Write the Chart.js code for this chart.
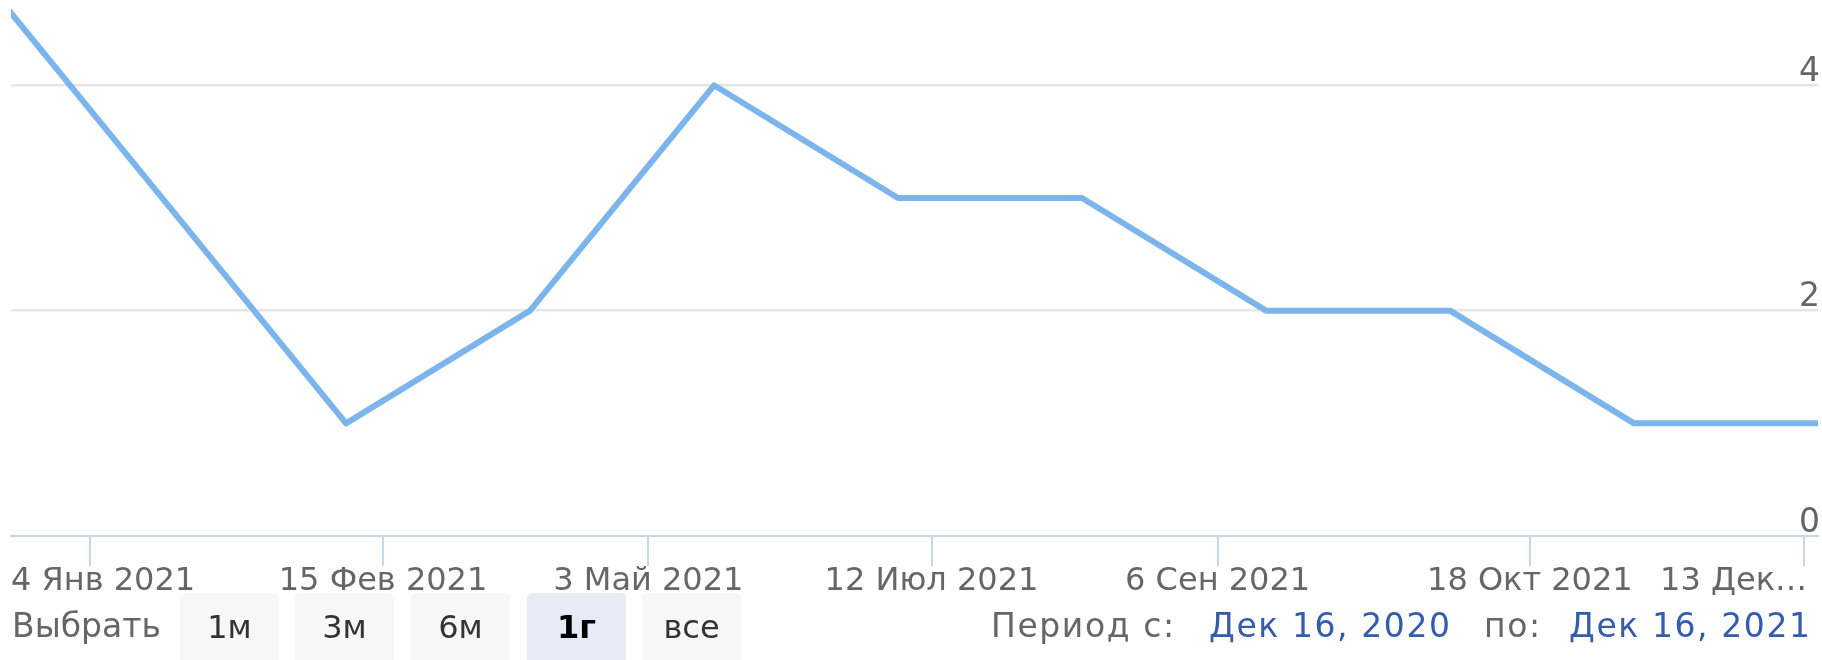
<!DOCTYPE html>
<html>
<head>
<meta charset="utf-8">
<script src="https://cdn.jsdelivr.net/npm/chart.js@4.4.0/dist/chart.umd.min.js"></script>
<style>
  body { margin: 0; background: #fff; }
  #wrap { position: relative; width: 1822px; height: 660px; overflow: hidden; font-family: "DejaVu Sans", sans-serif; }
  #wrap canvas { position: absolute; left: 0; top: 0; }
  .lbl { position: absolute; top: 608px; font-size: 33px; line-height: 36px; color: #666; white-space: nowrap; }
  .per { letter-spacing: 1.6px; }
  .btn { position: absolute; top: 593px; width: 99px; height: 80px; padding-top: 16px; box-sizing: border-box;
         background: #f7f7f7; border-radius: 5px; text-align: center; font-size: 32px; line-height: 36px; color: #333; }
  .btn.sel { background: #e6ebf5; color: #000; font-weight: bold; }
  .date { color: #335cad; }
</style>
</head>
<body>
<div id="wrap">
  <canvas id="grafico"></canvas>
  <div class="lbl" style="left:12px">Выбрать</div>
  <div class="btn" style="left:180px">1м</div>
  <div class="btn" style="left:295px">3м</div>
  <div class="btn" style="left:411px">6м</div>
  <div class="btn sel" style="left:527px">1г</div>
  <div class="btn" style="left:642px">все</div>
  <div class="lbl per" style="left:991px">Период с:</div>
  <div class="lbl per date" style="left:1209px">Дек 16, 2020</div>
  <div class="lbl per" style="left:1484px">по:</div>
  <div class="lbl per date" style="left:1569px">Дек 16, 2021</div>
</div>
<script>
// ordinal axis: points are equally spaced, x = point index
let valores = [5, 3, 1, 2, 4, 3, 3, 2, 2, 1, 1]

// tick marks (in point-index units) and their labels
let posTicks = [0.608, 2.201, 3.643, 5.182, 6.737, 8.434, 9.924]
let posRotulos = [0.179, 2.201, 3.643, 5.182, 6.737, 8.434, 9.94]
let rotulosX = ['4 Янв 2021', '15 Фев 2021', '3 Май 2021', '12 Июл 2021', '6 Сен 2021', '18 Окт 2021', '13 Дек…']
let ticksY = [0, 2, 4]

let xMin = 0.179, xMax = 10
let yMax = 4.757

let pontos = valores.map((v, i) => { return {x: i, y: v} })

var ctx = document.getElementById('grafico').getContext('2d')
Chart.defaults.font.family = '"DejaVu Sans", sans-serif'

var grafico = new Chart(ctx, {
  type: 'line',
  data: {
    datasets: [{
      data: pontos,
      borderColor: '#7cb5ec',
      borderWidth: 6,
      borderJoinStyle: 'round',
      borderCapStyle: 'round',
      pointRadius: 0,
      tension: 0,
      fill: false
    }]
  },
  options: {
    responsive: true,
    maintainAspectRatio: false,
    animation: false,
    events: [],
    layout: { autoPadding: false, padding: { left: 11, right: 0, top: 0, bottom: 62 } },
    plugins: { legend: { display: false }, tooltip: { enabled: false } },
    scales: {
      x: {
        type: 'linear',
        position: 'bottom',
        weight: 1,
        min: xMin,
        max: xMax,
        afterBuildTicks: s => { s.ticks = posTicks.map(v => ({value: v})) },
        grid: { drawOnChartArea: false, drawTicks: true, tickLength: 30, color: '#ccd6eb', lineWidth: 2 },
        border: { display: true, color: '#ccd6eb', width: 2 },
        ticks: { display: false }
      },
      xRotulos: {
        type: 'linear',
        position: 'bottom',
        weight: 2,
        min: xMin,
        max: xMax,
        afterBuildTicks: s => { s.ticks = posRotulos.map(v => ({value: v})) },
        grid: { display: false, drawTicks: false },
        border: { display: false },
        ticks: {
          autoSkip: false,
          maxRotation: 0,
          align: 'inner',
          padding: -2,
          color: '#666',
          font: { size: 32, lineHeight: '36px' },
          callback: (v, i) => rotulosX[i]
        }
      },
      y: {
        position: 'right',
        min: 0,
        max: yMax,
        afterBuildTicks: s => { s.ticks = ticksY.map(v => ({value: v})) },
        afterFit: s => { s.paddingTop = 0; s.paddingBottom = 0 },
        grid: {
          drawTicks: false,
          lineWidth: 2.5,
          color: c => c.tick && c.tick.value === 0 ? 'rgba(0,0,0,0)' : '#e6e6e6'
        },
        border: { display: false },
        ticks: {
          mirror: true,
          padding: 2,
          labelOffset: -13,
          color: '#666',
          font: { size: 33 },
          callback: v => v
        }
      }
    }
  }
})
</script>
</body>
</html>
